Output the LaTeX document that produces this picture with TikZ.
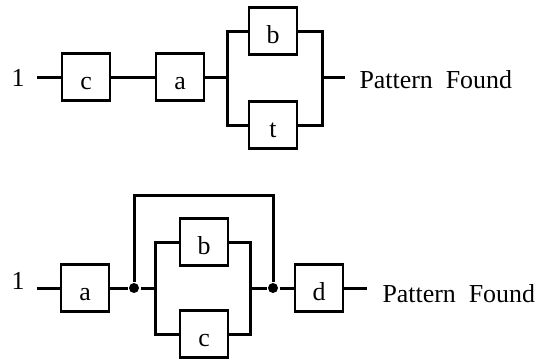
\documentclass[tikz,border=0pt]{standalone}
\usepackage{fontspec}
\setmainfont{Liberation Serif}

\begin{document}
\begin{tikzpicture}[x=1bp,y=-1bp,line width=3bp,
    box/.style={draw,line width=2.3bp,minimum width=48bp,minimum height=47bp,
        inner sep=0pt,text height=30bp,text depth=6bp,font=\fontsize{26}{30}\selectfont},
    lbl/.style={inner sep=0pt,font=\fontsize{26}{30}\selectfont},
    junc/.style={circle,fill,inner sep=0pt,minimum size=10bp}]
    \useasboundingbox (0,0) rectangle (540,362);
    % first chain: c, a, then b or t
    \node[lbl] (one1) at (18,78) {1};
    \node[box] (c1) at (86,77) {c};
    \node[box] (a1) at (180,77) {a};
    \node[box] (b1) at (273,31) {b};
    \node[box] (t1) at (273,125) {t};
    \node[lbl,anchor=west] (pf1) at (358,80) {Pattern\ \ Found};
    \coordinate (in1) at (37,77);
    \coordinate (sl1) at (227,77);
    \coordinate (sr1) at (322,77);
    \coordinate (out1) at (345,77);
    \draw (in1)--(c1) (c1)--(a1) (a1)--(sl1);
    \draw (b1.west)-|(sl1)|-(t1.west);
    \draw (b1.east)-|(sr1)|-(t1.east);
    \draw (sr1)--(out1);
    % second chain: a, then b or c or nothing, then d
    \node[lbl] (one2) at (18,281) {1};
    \node[box] (a2) at (85,288) {a};
    \node[junc] (jl) at (134,288) {};
    \node[box] (b2) at (204,242) {b};
    \node[box] (c2) at (204,334) {c};
    \node[junc] (jr) at (273,288) {};
    \node[box] (d2) at (319,288) {d};
    \node[lbl,anchor=west] (pf2) at (381,294) {Pattern\ \ Found};
    \coordinate (in2) at (37,288);
    \coordinate (sl2) at (155,288);
    \coordinate (sr2) at (250,288);
    \coordinate (top2) at (134,195);
    \coordinate (out2) at (367,288);
    \draw (in2)--(a2) (a2)--(jl) (jl)--(sl2);
    \draw (b2.west)-|(sl2)|-(c2.west);
    \draw (b2.east)-|(sr2)|-(c2.east);
    \draw (sr2)--(jr) (jr)--(d2) (d2)--(out2);
    \draw (jl)--(top2)-|(jr);
\end{tikzpicture}
\end{document}
